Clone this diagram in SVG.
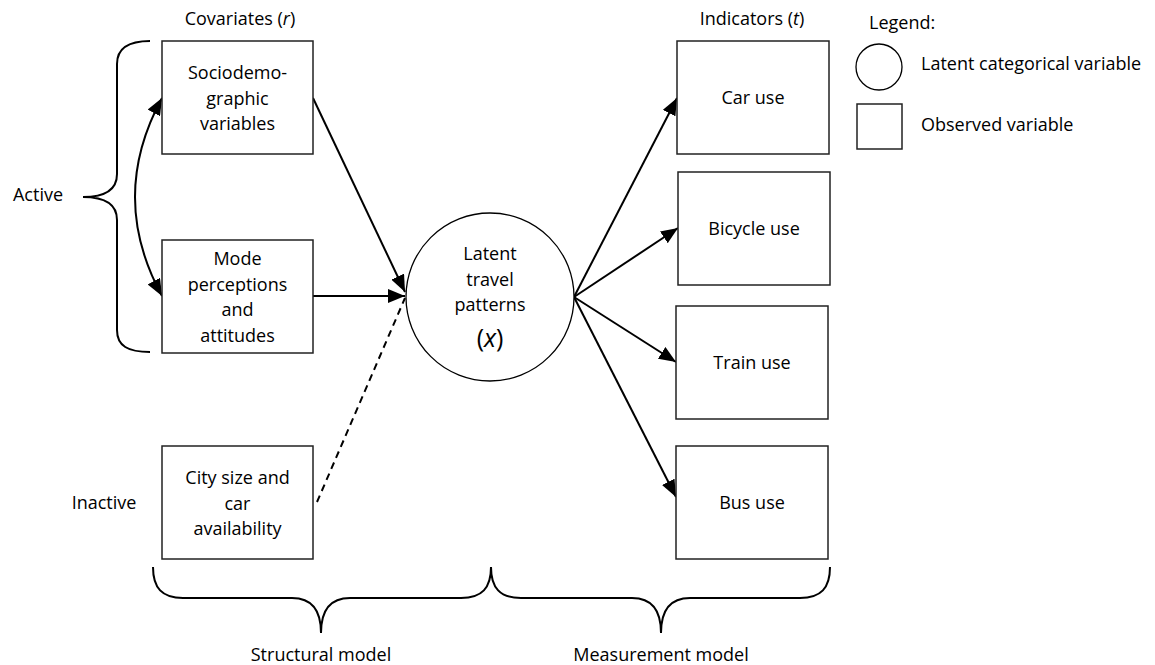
<svg xmlns="http://www.w3.org/2000/svg" width="1155" height="665" viewBox="0 0 1155 665">
<style>
text{font-family:"Open Sans","Liberation Sans",sans-serif;font-size:18px;fill:#000}
.c{text-anchor:middle}
.big{font-size:25px}
.box{fill:#fff;stroke:#222;stroke-width:1.5}
.circ{fill:#fff;stroke:#000;stroke-width:1.3}
.con{fill:none;stroke:#000;stroke-width:2}
.brace{fill:none;stroke:#000;stroke-width:2}
</style>
<defs>
<marker id="ah" markerUnits="userSpaceOnUse" markerWidth="18" markerHeight="14" refX="17" refY="7" orient="auto-start-reverse" viewBox="0 0 18 14">
<path d="M0,0 L17,7 L0,14 z" fill="#000"/>
</marker>
</defs>
<rect width="1155" height="665" fill="#fff"/>

<g id="headers">
<text class="c" x="240" y="25">Covariates (<tspan font-style="italic">r</tspan>)</text>
<text class="c" x="752" y="25">Indicators (<tspan font-style="italic">t</tspan>)</text>
</g>

<g id="braces">
<path class="brace" d="M150,41 C128,41 117,48 117,64 L117,174 C117,190 105,197 83,197 C105,197 117,204 117,220 L117,330 C117,346 128,352 150,352"/>
<text class="c" x="38" y="201">Active</text>
<text class="c" x="104" y="509">Inactive</text>
<path class="brace" d="M153,567 C153,588 162,598 183,598 L292,598 C312,598 321,610 321,633 C321,610 330,598 350,598 L461,598 C482,598 491,588 491,567"/>
<path class="brace" d="M491,567 C491,588 500,598 521,598 L632,598 C652,598 661,610 661,633 C661,610 670,598 690,598 L800,598 C821,598 830,588 830,567"/>
<text class="c" x="321" y="661">Structural model</text>
<text class="c" x="661" y="661">Measurement model</text>
</g>

<g id="connectors">
<path class="con" d="M162,98 Q108,197 162,296" marker-start="url(#ah)" marker-end="url(#ah)"/>
<line class="con" x1="313" y1="98" x2="405" y2="292" marker-end="url(#ah)"/>
<line class="con" x1="313" y1="296" x2="405" y2="296" marker-end="url(#ah)"/>
<line class="con" x1="317" y1="502" x2="405" y2="298" stroke-dasharray="7,5" stroke-width="1.6"/>
<line class="con" x1="574" y1="297" x2="677" y2="98" marker-end="url(#ah)"/>
<line class="con" x1="574" y1="297" x2="678" y2="228" marker-end="url(#ah)"/>
<line class="con" x1="574" y1="297" x2="676" y2="362" marker-end="url(#ah)"/>
<line class="con" x1="574" y1="297" x2="676" y2="497" marker-end="url(#ah)"/>
</g>

<g id="node-socio">
<rect class="box" x="162" y="41" width="151" height="113"/>
<text class="c" x="237.5" y="79">Sociodemo-</text>
<text class="c" x="237.5" y="104.5">graphic</text>
<text class="c" x="237.5" y="130">variables</text>
</g>
<g id="node-mode">
<rect class="box" x="162" y="240" width="151" height="113"/>
<text class="c" x="237.5" y="265">Mode</text>
<text class="c" x="237.5" y="290.5">perceptions</text>
<text class="c" x="237.5" y="316">and</text>
<text class="c" x="237.5" y="341.5">attitudes</text>
</g>
<g id="node-city">
<rect class="box" x="162" y="446" width="151" height="113"/>
<text class="c" x="237.5" y="484">City size and</text>
<text class="c" x="237.5" y="509.5">car</text>
<text class="c" x="237.5" y="535">availability</text>
</g>
<g id="node-latent">
<circle class="circ" cx="490" cy="297" r="84"/>
<text class="c" x="490" y="260">Latent</text>
<text class="c" x="490" y="285.5">travel</text>
<text class="c" x="490" y="311">patterns</text>
<text class="c big" x="490" y="347">(<tspan font-style="italic">x</tspan>)</text>
</g>
<g id="node-car">
<rect class="box" x="677" y="41" width="152" height="113"/>
<text class="c" x="753" y="104">Car use</text>
</g>
<g id="node-bicycle">
<rect class="box" x="678" y="172" width="152" height="113"/>
<text class="c" x="754" y="235">Bicycle use</text>
</g>
<g id="node-train">
<rect class="box" x="676" y="306" width="152" height="113"/>
<text class="c" x="752" y="369">Train use</text>
</g>
<g id="node-bus">
<rect class="box" x="676" y="446" width="152" height="113"/>
<text class="c" x="752" y="509">Bus use</text>
</g>

<g id="legend">
<text x="869" y="29">Legend:</text>
<circle class="circ" cx="879" cy="67" r="23"/>
<text x="921" y="70">Latent categorical variable</text>
<rect class="box" x="857" y="104" width="45" height="45"/>
<text x="921" y="131">Observed variable</text>
</g>
</svg>
